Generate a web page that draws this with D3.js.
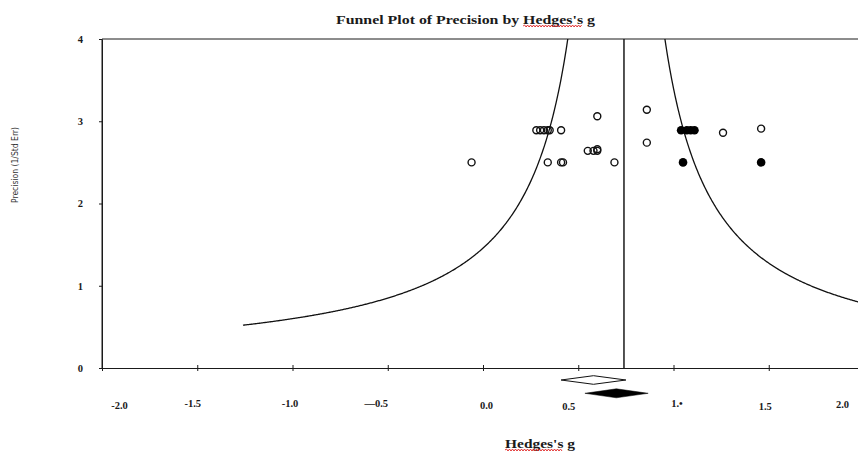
<!DOCTYPE html>
<html>
<head>
<meta charset="utf-8">
<script src="https://cdn.jsdelivr.net/npm/d3@7"></script>
<style>
  html, body { margin: 0; padding: 0; background: #fff; }
  svg { display: block; }
</style>
</head>
<body>
<svg id="chart" width="858" height="453"></svg>
<script>
// ---------------- data ----------------
const xTickValues = [-2.0, -1.5, -1.0, -0.5, 0.0, 0.5, 1.0, 1.5, 2.0];
const xTickLabels = ["-2.0", "-1.5", "-1.0", "—0.5", "0.0", "0.5", "1.•", "1.5", "2.0"];
const yTickValues = [0, 1, 2, 3, 4];
const yTickLabels = ["0", "1", "2", "3", "4"];

// observed studies (open circles)
const observedG    = [-0.06, 0.28, 0.30, 0.32, 0.34, 0.35, 0.41, 0.34, 0.41, 0.42, 0.55, 0.58, 0.60, 0.60, 0.60, 0.69, 0.86, 0.86, 1.26, 1.46];
const observedPrec = [ 2.50, 2.89, 2.89, 2.89, 2.89, 2.89, 2.89, 2.50, 2.50, 2.50, 2.64, 2.64, 2.64, 2.66, 3.06, 2.50, 3.14, 2.74, 2.86, 2.91];

// imputed studies (filled circles)
const imputedG    = [1.04, 1.07, 1.09, 1.11, 1.05, 1.46];
const imputedPrec = [2.89, 2.89, 2.89, 2.89, 2.50, 2.50];

// summary effects: [lower, estimate, upper]
const observedSummary = [0.41, 0.58, 0.75];
const adjustedSummary = [0.535, 0.70, 0.867];

// vertical reference line and funnel
const referenceLineG = 0.74;
const funnelCenter = 0.70;
const funnelHalfWidth = 1.02;   // half-width = funnelHalfWidth / precision
const funnelLeftStartG = -1.26;

// ---------------- layout ----------------
const svg = d3.select("#chart");
const plot = { left: 102, right: 864, top: 39, bottom: 368 };
const x = d3.scaleLinear().domain([-2, 2]).range([plot.left, plot.right]);
const y = d3.scaleLinear().domain([0, 4]).range([plot.bottom, plot.top]);
const serif = "'Liberation Serif', 'Times New Roman', serif";
const ink = "#1a1a1a";

svg.append("defs").append("clipPath").attr("id", "clip")
  .append("rect").attr("x", plot.left).attr("y", plot.top)
  .attr("width", plot.right - plot.left).attr("height", plot.bottom - plot.top);

// frame (top + left)
svg.append("line").attr("x1", plot.left).attr("x2", plot.right)
  .attr("y1", plot.top).attr("y2", plot.top).attr("stroke", ink).attr("stroke-width", 1);
svg.append("line").attr("x1", plot.left).attr("x2", plot.left)
  .attr("y1", plot.top).attr("y2", plot.bottom).attr("stroke", ink).attr("stroke-width", 1);

// x axis
const labelNudge = { "-2": 17, "-1.5": -5, "-1": -3, "-0.5": -12, "0": 3, "0.5": -10, "1": 3, "1.5": -4, "2": -22 };
const labelDy = { "-2": 2, "-1.5": 0, "-1": 0, "-0.5": 0, "0": 2, "0.5": 3, "1": 0, "1.5": 3, "2": 1 };
const xAxis = svg.append("g").attr("transform", `translate(0,${plot.bottom})`)
  .call(d3.axisBottom(x).tickValues(xTickValues)
    .tickFormat((d, i) => xTickLabels[i]).tickSizeInner(3).tickSizeOuter(0).tickPadding(29));
xAxis.select(".domain").attr("stroke", ink);
xAxis.selectAll(".tick line").attr("y1", -3).attr("y2", 3).attr("stroke", ink);
xAxis.selectAll(".tick text")
  .attr("font-family", serif).attr("font-weight", "bold").attr("font-size", 10.5).attr("fill", ink)
  .attr("dx", d => labelNudge[String(d)] || 0)
  .attr("transform", d => `translate(0,${labelDy[String(d)] || 0})`);

// y axis
const yAxis = svg.append("g").attr("transform", `translate(${plot.left},0)`)
  .call(d3.axisLeft(y).tickValues(yTickValues)
    .tickFormat((d, i) => yTickLabels[i]).tickSizeInner(3).tickSizeOuter(0).tickPadding(16));
yAxis.select(".domain").attr("stroke", ink);
yAxis.selectAll(".tick line").attr("stroke", ink);
yAxis.selectAll(".tick text")
  .attr("font-family", serif).attr("font-weight", "bold").attr("font-size", 10.5).attr("fill", ink);

// funnel curves
const g = svg.append("g").attr("clip-path", "url(#clip)");
const leftPts = [];
const gTop = funnelCenter - funnelHalfWidth / 4.2;
for (let i = 0; i <= 400; i++) {
  const gv = funnelLeftStartG + (gTop - funnelLeftStartG) * i / 400;
  leftPts.push([gv, funnelHalfWidth / (funnelCenter - gv)]);
}
const rightPts = [];
const gTopR = funnelCenter + funnelHalfWidth / 4.2;
for (let i = 0; i <= 400; i++) {
  const gv = gTopR + (2.3 - gTopR) * i / 400;
  rightPts.push([gv, funnelHalfWidth / (gv - funnelCenter)]);
}
const line = d3.line().x(d => x(d[0])).y(d => y(d[1]));
g.append("path").attr("d", line(leftPts)).attr("fill", "none").attr("stroke", "#111").attr("stroke-width", 1.3);
g.append("path").attr("d", line(rightPts)).attr("fill", "none").attr("stroke", "#111").attr("stroke-width", 1.3);

// reference vertical line
svg.append("line").attr("x1", x(referenceLineG)).attr("x2", x(referenceLineG))
  .attr("y1", plot.top).attr("y2", plot.bottom).attr("stroke", ink).attr("stroke-width", 1.5);

// points
g.selectAll("circle.obs").data(observedG.map((v, i) => [v, observedPrec[i]])).join("circle")
  .attr("class", "obs").attr("cx", d => x(d[0])).attr("cy", d => y(d[1])).attr("r", 3.5)
  .attr("fill", "none").attr("stroke", "#111").attr("stroke-width", 1.4);
g.selectAll("circle.imp").data(imputedG.map((v, i) => [v, imputedPrec[i]])).join("circle")
  .attr("class", "imp").attr("cx", d => x(d[0])).attr("cy", d => y(d[1])).attr("r", 4.3)
  .attr("fill", "#000");

// summary diamonds
function diamond(s, cy, h) {
  return `M${x(s[0])},${cy} L${x(s[1])},${cy - h} L${x(s[2])},${cy} L${x(s[1])},${cy + h} Z`;
}
svg.append("path").attr("d", diamond(observedSummary, plot.bottom + 12, 4.3))
  .attr("fill", "#fff").attr("stroke", "#111").attr("stroke-width", 1);
svg.append("path").attr("d", diamond(adjustedSummary, plot.bottom + 25.3, 4.5))
  .attr("fill", "#000").attr("stroke", "#000").attr("stroke-width", 0.5);

// wavy spell-check underline
function wavy(x0, x1, yy) {
  let d = `M${x0},${yy}`;
  let up = true;
  for (let xx = x0 + 1.5; xx <= x1; xx += 1.5) { d += ` L${xx},${yy + (up ? -1 : 1)}`; up = !up; }
  svg.append("path").attr("d", d).attr("fill", "none").attr("stroke", "#e02020").attr("stroke-width", 0.9);
}

// title
const title = svg.append("text").attr("x", 336).attr("y", 23.5)
  .attr("font-family", serif).attr("font-weight", "bold").attr("font-size", 12.5).attr("fill", ink)
  .attr("textLength", 259).attr("lengthAdjust", "spacingAndGlyphs")
  .text("Funnel Plot of Precision by Hedges's g");
{
  const node = title.node();
  const s = "Funnel Plot of Precision by ".length;
  const e = s + "Hedges's".length - 1;
  wavy(node.getStartPositionOfChar(s).x, node.getEndPositionOfChar(e).x, 26);
}

// x axis title
const xt = svg.append("text").attr("x", 505).attr("y", 447.5)
  .attr("font-family", serif).attr("font-weight", "bold").attr("font-size", 11.5).attr("fill", ink)
  .attr("textLength", 70).attr("lengthAdjust", "spacingAndGlyphs")
  .text("Hedges's g");
{
  const node = xt.node();
  wavy(node.getStartPositionOfChar(0).x, node.getEndPositionOfChar(7).x, 450);
}

// y axis title
svg.append("text").attr("transform", "translate(18,165) rotate(-90)")
  .attr("text-anchor", "middle")
  .attr("font-family", "'DejaVu Sans Condensed', 'DejaVu Sans', sans-serif").attr("font-stretch", "condensed")
  .attr("font-size", 8).attr("fill", "#333")
  .attr("textLength", 76).attr("lengthAdjust", "spacingAndGlyphs")
  .text("Precision (1/Std Err)");
</script>
</body>
</html>
